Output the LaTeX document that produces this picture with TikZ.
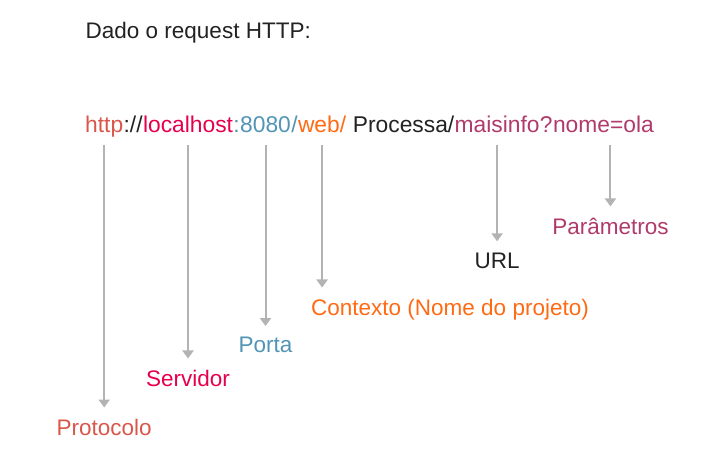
\documentclass[tikz,border=0pt]{standalone}
\usepackage{fontspec}
\setmainfont{Liberation Sans}
\usetikzlibrary{arrows.meta}
\definecolor{cproto}{HTML}{D9574A}
\definecolor{cserver}{HTML}{E6004C}
\definecolor{cport}{HTML}{5294B5}
\definecolor{ccontext}{HTML}{FF6A13}
\definecolor{curl}{HTML}{222222}
\definecolor{cparam}{HTML}{B03A6A}
\definecolor{arrowgray}{HTML}{B3B3B3}
\tikzset{
  seg/.style={inner sep=0pt, anchor=base west, font=\fontsize{22.8}{28}\selectfont},
  lbl/.style={inner sep=0pt, anchor=base, font=\fontsize{22.5}{27}\selectfont},
  pointer/.style={draw=arrowgray, line width=2pt,
    -{Triangle[length=8pt,width=11pt]}, shorten >=11pt},
}
\begin{document}
\begin{tikzpicture}[x=1pt,y=-1pt]
\useasboundingbox (0,0) rectangle (718,463);
\node[lbl, anchor=base west, text=curl] (title) at (85.5,38.3) {Dado o request HTTP:};
% the request, piece by piece
\node[seg, text=cproto] (http) at (85,132.7) {http};
\node[seg, text=curl] (slashes) at (http.base east) {://};
\node[seg, text=cserver] (host) at (slashes.base east) {localhost};
\node[seg, text=cport] (colon) at (host.base east) {:};
\node[seg, text=cport] (port) at (colon.base east) {8080};
\node[seg, text=cport] (slash) at (port.base east) {/};
\node[seg, text=ccontext] (web) at (slash.base east) {web/};
\node[seg, text=curl] (servlet) at (web.base east) {\ Processa/};
\node[seg, text=cparam] (info) at (servlet.base east) {maisinfo};
\node[seg, text=cparam] (quest) at (info.base east) {?};
\node[seg, text=cparam] (query) at (quest.base east) {nome=ola};
\coordinate (queryarrow) at ([xshift=7pt,yshift=-12pt]query.base);
% what each piece is
\node[lbl, text=cproto] (protocolo) at (http.base |- 0,435) {Protocolo};
\node[lbl, text=cserver] (servidor) at (host.base |- 0,386) {Servidor};
\node[lbl, text=cport] (porta) at (port.base |- 0,352.7) {Porta};
\node[lbl, anchor=base west, text=ccontext] (contexto) at (311,315) {Contexto (Nome do projeto)};
\node[lbl, text=curl] (url) at (info.base |- 0,268) {URL};
\node[lbl, text=cparam] (parametros) at (queryarrow |- 0,234) {Parâmetros};
\draw[pointer] ([yshift=-12pt]http.base) -- (protocolo.north);
\draw[pointer] ([yshift=-12pt]host.base) -- (servidor.north);
\draw[pointer] ([yshift=-12pt]port.base) -- (porta.north);
\draw[pointer] ([yshift=-12pt]web.base) -- (web.base |- contexto.north);
\draw[pointer] ([yshift=-12pt]info.base) -- (url.north);
\draw[pointer] (queryarrow) -- (parametros.north);
\end{tikzpicture}
\end{document}
